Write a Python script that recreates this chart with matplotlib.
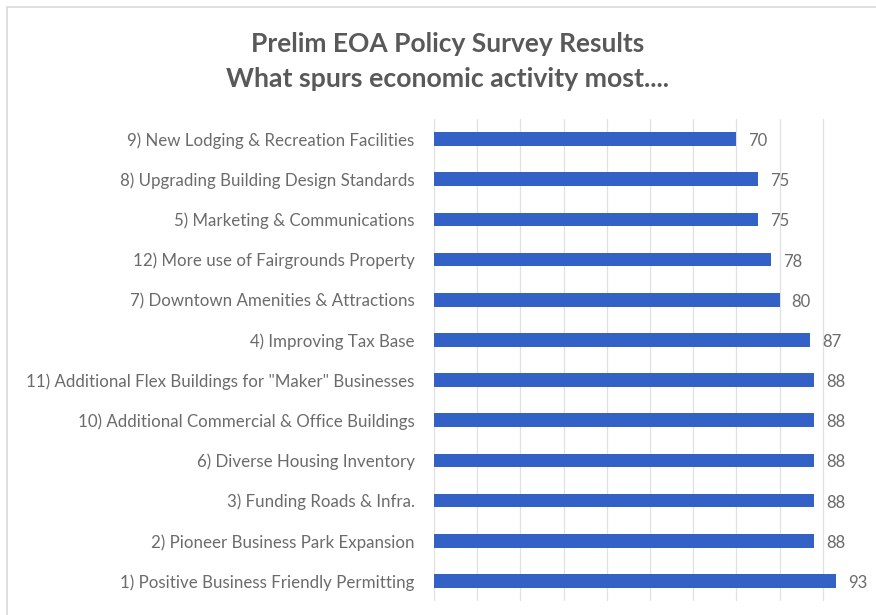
import matplotlib
matplotlib.use("Agg")
import matplotlib.pyplot as plt
from matplotlib.patches import Rectangle

# Survey items, listed bottom to top
categories = [
    "1) Positive Business Friendly Permitting",
    "2) Pioneer Business Park Expansion",
    "3) Funding Roads & Infra.",
    "6) Diverse Housing Inventory",
    "10) Additional Commercial & Office Buildings",
    "11) Additional Flex Buildings for \"Maker\" Businesses",
    "4) Improving Tax Base",
    "7) Downtown Amenities & Attractions",
    "12) More use of Fairgrounds Property",
    "5) Marketing & Communications",
    "8) Upgrading Building Design Standards",
    "9) New Lodging & Recreation Facilities",
]
scores = [93, 88, 88, 88, 88, 88, 87, 80, 78, 75, 75, 70]
grid_ticks = [0, 10, 20, 30, 40, 50, 60, 70, 80, 90]

title_lines = ["Prelim EOA Policy Survey Results",
               "What spurs economic activity most...."]

bar_color = "#3461C6"
text_gray = "#595959"
label_gray = "#6b6b6b"
font = ["Lato", "DejaVu Sans"]

fig = plt.figure(figsize=(8.76, 6.15), dpi=100)
fig.patch.set_facecolor("white")

# light frame around the chart area
fig.add_artist(Rectangle((7 / 876, -0.01), 1.0, 1 - 7 / 615 + 0.01,
                         transform=fig.transFigure, fill=False,
                         edgecolor="#d9d9d9", linewidth=1.2))

ax = fig.add_axes([434 / 876, 1 - 601 / 615, (866 - 434) / 876, (601 - 119) / 615])
y = list(range(len(categories)))
ax.barh(y, scores, height=0.34, color=bar_color, zorder=3)

ax.set_xlim(0, 100)
ax.set_ylim(-0.5, len(categories) - 0.5)
ax.set_xticks(grid_ticks)
ax.set_xticklabels([])
ax.tick_params(axis="x", length=0)
ax.tick_params(axis="y", length=0, pad=14)
ax.grid(axis="x", color="#e0e0e0", linewidth=0.9, zorder=0)
ax.set_yticks(y)
ax.set_yticklabels(categories, fontsize=12.2, color=label_gray, family=font)
for s in ax.spines.values():
    s.set_visible(False)

for yi, v in zip(y, scores):
    ax.text(v + 2.8, yi - 0.05, str(v), va="center", ha="left",
            fontsize=12, color=label_gray, family=font)

fig.text(448 / 876, 1 - 44 / 615, title_lines[0], ha="center", va="center",
         fontsize=19, fontweight="bold", color=text_gray, family=font)
fig.text(448 / 876, 1 - 79 / 615, title_lines[1], ha="center", va="center",
         fontsize=19.2, fontweight="bold", color=text_gray, family=font)

fig.savefig("out.png", dpi=100, facecolor="white")
